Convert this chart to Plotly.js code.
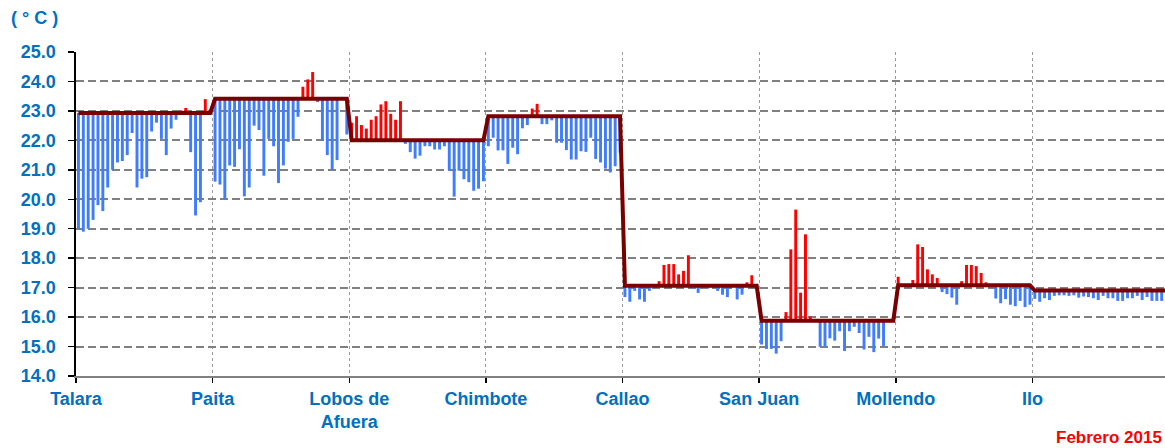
<!DOCTYPE html>
<html><head><meta charset="utf-8">
<script src="https://cdn.plot.ly/plotly-3.0.1.min.js"></script>
<style>
html,body{margin:0;padding:0;overflow:hidden;background:#fff;width:1165px;height:448px}
#chart{width:1180px;height:448px}
</style>
</head><body><div id="chart"></div>
<script>
const stations = ["Talara","Paita","Lobos de<br>Afuera","Chimbote","Callao","San Juan","Mollendo","Ilo"];
const means = [22.93, 23.41, 22.0, 22.82, 17.06, 15.88, 17.08, 16.9];
const yTicks = [14,15,16,17,18,19,20,21,22,23,24,25];

const talara   = [19.0, 18.9, 19.0, 19.3, 19.8, 19.6, 20.4, 21.0, 21.25, 21.3, 21.5, 22.25, 20.4, 20.7, 20.75, 22.3, 22.6, 22.05, 21.5, 22.4, 22.7, 23.02, 23.1, 21.6, 19.45, 19.9, 23.4, 22.9];
const paita    = [20.6, 20.5, 20.0, 21.15, 21.1, 21.7, 20.1, 20.4, 22.5, 22.35, 20.8, 22.05, 21.8, 20.55, 21.15, 21.95, 22.05, 22.8, 23.82, 24.07, 24.32, 23.3, 22.0, 21.5, 21.0, 21.33, 23.4, 22.2];
const lobos    = [22.6, 22.82, 22.52, 22.4, 22.7, 22.82, 23.22, 23.33, 22.9, 22.7, 23.33, 21.88, 21.6, 21.38, 21.48, 21.8, 21.8, 21.69, 21.69, 21.8, 20.97, 20.09, 20.97, 20.68, 20.58, 20.29, 20.36, 20.61];
const chimbote = [21.8, 22.09, 21.66, 21.66, 21.2, 21.75, 21.53, 22.41, 22.52, 23.08, 23.24, 22.55, 22.55, 22.68, 21.92, 21.92, 21.67, 21.35, 21.35, 21.63, 21.61, 22.09, 21.37, 21.25, 21.04, 20.91, 21.12, 21.58];
const callao   = [16.68, 16.52, 16.89, 16.6, 16.52, 16.89, 16.98, 17.22, 17.77, 17.8, 17.8, 17.45, 17.57, 18.1, 16.97, 16.82, 17.0, 16.97, 17.0, 16.89, 16.76, 16.68, 17.02, 16.6, 16.76, 17.18, 17.42, 17.05];
const sanJuan  = [15.07, 14.92, 14.92, 14.76, 15.18, 16.17, 18.3, 19.65, 16.83, 18.81, 16.02, 15.93, 14.99, 14.99, 15.28, 15.2, 15.52, 14.85, 15.52, 15.67, 15.46, 14.9, 15.33, 14.81, 15.27, 15.02, 15.88, 15.88];
const mollendo = [17.37, 17.08, 16.98, 17.26, 18.47, 18.38, 17.62, 17.45, 17.33, 16.85, 16.78, 16.66, 16.42, 17.22, 17.77, 17.77, 17.73, 17.5, 17.18, 16.98, 16.63, 16.47, 16.61, 16.42, 16.37, 16.55, 16.34, 16.42];
const ilo      = [16.62, 16.52, 16.64, 16.58, 16.72, 16.74, 16.74, 16.72, 16.74, 16.66, 16.7, 16.68, 16.64, 16.58, 16.72, 16.64, 16.64, 16.55, 16.55, 16.64, 16.64, 16.72, 16.58, 16.68, 16.55, 16.55, 16.55, 16.6];

const daily = [talara, paita, lobos, chimbote, callao, sanJuan, mollendo, ilo];
const nDays = 28;

const xs = [], base = [], dy = [], cols = [], lineY = [];
daily.forEach((vals, i) => vals.forEach((v, j) => {
  xs.push(i * nDays + j + 0.5);
  base.push(means[i]);
  dy.push(v - means[i]);
  cols.push(v >= means[i] ? '#FF0000' : '#3F7CFF');
  lineY.push(means[i]);
}));

const fontFam = 'Liberation Sans, Arial, sans-serif';
const blueTxt = '#0070C0';

const traces = [
  {type:'bar', x: xs, y: dy, base: base, width: 0.6,
   marker:{color: cols, line:{width:0}}, hoverinfo:'skip'},
  {type:'scatter', mode:'lines', x: xs, y: lineY,
   line:{color:'#7A0000', width:4}, hoverinfo:'skip'}
];

const layout = {
  width: 1180, height: 448,
  margin: {l:76, r:11, t:52, b:72},
  showlegend: false,
  paper_bgcolor: '#fff', plot_bgcolor: '#fff',
  xaxis: {
    range: [0, daily.length * nDays],
    tickmode: 'array',
    tickvals: stations.map((s, i) => i * nDays),
    ticktext: stations,
    ticks: 'outside', ticklen: 5, tickcolor: '#000', tickwidth: 1.5,
    showline: true, linecolor: '#808080', linewidth: 2,
    showgrid: true, gridcolor: '#9a9a9a', gridwidth: 1, griddash: 'dot',
    zeroline: false,
    tickfont: {family: fontFam, size: 18, color: blueTxt, weight: 'bold'}
  },
  yaxis: {
    range: [14, 25],
    tickmode: 'array', tickvals: yTicks,
    ticktext: yTicks.map(v => v.toFixed(1)),
    ticks: 'outside', ticklen: 6, tickcolor: '#000', tickwidth: 1.5,
    showline: true, linecolor: '#000', linewidth: 2.5,
    showgrid: true, gridcolor: '#808080', gridwidth: 2, griddash: '8px,4px',
    zeroline: false,
    ticklabelstandoff: 8,
    tickfont: {family: fontFam, size: 18, color: blueTxt, weight: 'bold'}
  },
  annotations: [
    {text: '( ° C )', xref:'paper', yref:'paper', x: (9-76)/1093, y: (376-18)/324,
     xanchor:'left', yanchor:'middle', showarrow:false,
     font:{family: fontFam, size: 18, color: blueTxt, weight:'bold'}},
    {text: 'Febrero 2015', xref:'paper', yref:'paper', x: (1054-76)/1093, y: (376-437)/324,
     xanchor:'left', yanchor:'middle', showarrow:false,
     font:{family: fontFam, size: 17, color: '#FF0000', weight:'bold'}}
  ]
};

Plotly.newPlot('chart', traces, layout, {staticPlot: true, displayModeBar: false});
</script>
</body></html>
